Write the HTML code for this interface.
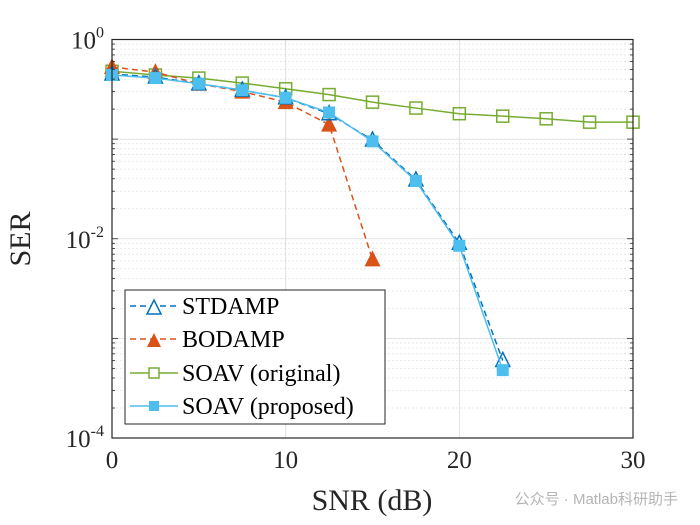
<!DOCTYPE html>
<html><head><meta charset="utf-8"><style>
body{margin:0;background:#fff;}
svg{display:block;font-family:"Liberation Serif",serif;}
</style></head><body>
<svg id="chart" width="700" height="525" viewBox="0 0 700 525" xmlns="http://www.w3.org/2000/svg">
<rect width="700" height="525" fill="#fff"/>
<g id="grid"></g>
<g id="series"></g>
<rect x="112" y="39.5" width="521" height="398.5" fill="none" stroke="#262626" stroke-width="1.2"/>
<g id="ticks"></g>
<text x="372" y="510" font-size="30" text-anchor="middle" fill="#262626">SNR (dB)</text>
<text transform="translate(30,239) rotate(-90)" font-size="30" text-anchor="middle" fill="#262626">SER</text>
<g>
<rect x="125" y="290" width="260" height="134" fill="#fff" stroke="#262626" stroke-width="1"/>
<line x1="130" y1="306" x2="178" y2="306" stroke="#0072BD" stroke-width="1.5" stroke-dasharray="6,4"/>
<polygon points="147,314 161,314 154,300" fill="#fff" stroke="#0072BD" stroke-width="1.5"/>
<text x="182" y="314" font-size="24" fill="#000">STDAMP</text>
<line x1="130" y1="339" x2="178" y2="339" stroke="#D95319" stroke-width="1.5" stroke-dasharray="6,4"/>
<polygon points="147,347 161,347 154,333" fill="#D95319"/>
<text x="182" y="347" font-size="24" fill="#000">BODAMP</text>
<line x1="130" y1="373" x2="178" y2="373" stroke="#77AC30" stroke-width="1.5"/>
<rect x="149" y="368" width="10" height="10" fill="#fff" stroke="#77AC30" stroke-width="1.5"/>
<text x="182" y="381" font-size="24" fill="#000">SOAV (original)</text>
<line x1="130" y1="406" x2="178" y2="406" stroke="#4DBEEE" stroke-width="1.5"/>
<rect x="149" y="401" width="10" height="10" fill="#4DBEEE"/>
<text x="182" y="414" font-size="24" fill="#000">SOAV (proposed)</text>
</g>
<text x="678" y="504" font-size="15" text-anchor="end" fill="#b5b5b5" font-family="'Liberation Sans','Noto Sans CJK SC',sans-serif">公众号 · Matlab科研助手</text>
</svg>
<script>
const snr = [0,2.5,5,7.5,10,12.5,15,17.5,20,22.5,25,27.5,30];
const stdamp = [0.45,0.42,0.36,0.31,0.26,0.18,0.098,0.039,0.0090,0.00060];
const bodamp = [0.53,0.47,0.36,0.30,0.235,0.14,0.0062];
const soavOrig = [0.48,0.44,0.41,0.365,0.32,0.28,0.235,0.205,0.18,0.17,0.16,0.148,0.148];
const soavProp = [0.44,0.41,0.36,0.31,0.26,0.185,0.095,0.038,0.0085,0.00048];
const xTicks = [0,10,20,30];
const yDecades = [0,-2,-4];
const NS="http://www.w3.org/2000/svg";
const X = v => 112 + v/30*521;
const Y = v => 39.5 - Math.log10(v)*99.625;
function el(t,a,p){const e=document.createElementNS(NS,t);for(const k in a)e.setAttribute(k,a[k]);p.appendChild(e);return e;}
const grid=document.getElementById('grid'), ticks=document.getElementById('ticks'), ser=document.getElementById('series');
for(let d=-4; d<0; d++){for(let m=1;m<10;m++){const y=Y(m*Math.pow(10,d));
 const g=el('line',{x1:112,x2:633,y1:y,y2:y,stroke:m==1?'#d9d9d9':'#e3e3e3','stroke-width':0.8,'stroke-dasharray':m==1?'':'2,2'},grid);
 
 
 const t=el('line',{x1:112,x2:m==1?118:115,y1:y,y2:y,stroke:'#262626','stroke-width':0.8},ticks);
 
 
 const t2=el('line',{x1:633,x2:m==1?627:630,y1:y,y2:y,stroke:'#262626','stroke-width':0.8},ticks);
 
 }}
yDecades.forEach(d=>{const y=Y(Math.pow(10,d));
 const t=el('text',{x:104,y:y+9,'font-size':25,'text-anchor':'end',fill:'#262626'},ticks);
 
 
 t.textContent='10';
 const s=el('tspan',{dy:-11,'font-size':16},t); s.textContent=String(d);});
xTicks.forEach(v=>{const x=X(v);
 if(v>0&&v<30){const g=el('line',{x1:x,x2:x,y1:39.5,y2:438,stroke:'#d9d9d9','stroke-width':0.8},grid);
 
 }
 const t=el('text',{x:x,y:468,'font-size':25,'text-anchor':'middle',fill:'#262626'},ticks);
 
 
 t.textContent=v;});
function drawSeries(vals,name,color,dash,marker){
 const pts=vals.map((v,i)=>X(snr[i])+','+Y(v)).join(' ');
 const l=el('polyline',{points:pts,fill:'none',stroke:color,'stroke-width':1.5,'stroke-dasharray':dash},ser);
 
 
 vals.forEach((v,i)=>{const x=X(snr[i]),y=Y(v);let m;
  if(marker=='tri-open')m=el('polygon',{points:`${x-7},${y+6} ${x+7},${y+6} ${x},${y-8}`,fill:'none',stroke:color,'stroke-width':1.5},ser);
  else if(marker=='tri')m=el('polygon',{points:`${x-8},${y+7} ${x+8},${y+7} ${x},${y-9}`,fill:color},ser);
  else if(marker=='sq-open')m=el('rect',{x:x-6,y:y-6,width:12,height:12,fill:'none',stroke:color,'stroke-width':1.5},ser);
  else m=el('rect',{x:x-6,y:y-6,width:12,height:12,fill:color},ser);
  
  });}
drawSeries(soavOrig,'soav-original','#77AC30','','sq-open');
drawSeries(bodamp,'bodamp','#D95319','6,4','tri');
drawSeries(stdamp,'stdamp','#0072BD','6,4','tri-open');
drawSeries(soavProp,'soav-proposed','#4DBEEE','','sq');
</script>
</body></html>
